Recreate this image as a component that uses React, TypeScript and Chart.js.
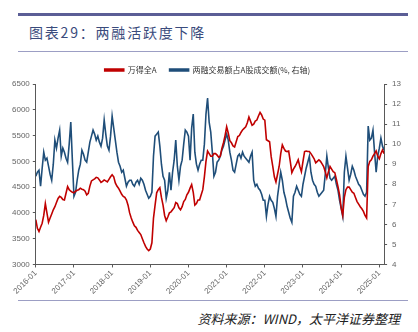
import React, { useEffect, useRef } from "react";
import { Chart, registerables } from "chart.js";

Chart.register(...registerables);

const yearLabels = ["2016-01","2017-01","2018-01","2019-01","2020-01","2021-01","2022-01","2023-01","2024-01","2025-01"];

// 万得全A, half-monthly
const windAllA = [
  3870,3700,3640,3720,3800,3950,4180,4000,3820,3900,3980,4060,4120,4200,4280,4320,4300,4260,4250,4380,4510,4450,4420,4400,
  4390,4420,4440,4450,4480,4460,4450,4420,4350,4380,4520,4620,4640,4660,4690,4680,4640,4590,4610,4640,4620,4600,4650,4700,
  4740,4700,4580,4520,4480,4420,4360,4320,4300,4250,4150,4000,3900,3820,3750,3720,3660,3620,3580,3500,3420,3350,3300,3270,
  3300,3420,3900,4150,4390,4450,4490,4300,4150,3950,3850,3920,4000,4020,4060,4100,4200,4180,4100,4060,4120,4220,4260,4350,
  4400,4480,4550,4400,4150,4180,4250,4250,4350,4450,4700,5000,5200,5150,5100,5100,5150,5150,5120,5080,5100,5250,5360,5500,
  5670,5550,5400,5360,5300,5280,5380,5480,5500,5560,5610,5640,5670,5750,5860,5780,5700,5720,5780,5800,5880,5950,5900,5820,
  5800,5420,5400,5380,5090,4900,4700,4600,4750,4900,5150,5320,5250,5200,5190,5200,5000,4780,4850,4900,4960,5030,4900,4800,
  5000,5190,5200,5190,5190,5150,5100,5050,4970,5000,5030,5000,4950,4900,4800,4680,4800,4900,4850,4800,4780,4650,4510,4350,
  4100,3950,4300,4450,4500,4500,4450,4400,4380,4300,4220,4170,4120,4080,4030,3950,3900,4900,5000,5030,5100,5150,5200,5100,
  5050,5150,5220,5150
];

// 两融交易额占A股成交额 (%), half-monthly
const marginShare = [
  8.4,8.6,8.7,7.9,8.8,9.6,9.2,9.3,8.9,8.5,8.2,9.0,10.2,9.8,10.3,10.7,9.4,9.8,9.6,9.3,9.1,10.0,11.1,9.2,
  7.4,7.6,8.2,8.7,9.0,9.7,9.5,9.2,9.1,9.6,10.1,10.4,10.7,10.5,10.2,10.4,10.1,9.9,10.3,11.2,10.5,9.9,9.7,10.4,
  11.4,10.8,10.2,9.6,9.1,8.9,8.6,8.7,8.3,7.9,8.1,8.2,8.2,8.0,7.9,8.1,8.2,8.0,8.3,8.2,8.0,7.7,7.5,7.3,
  7.4,7.6,9.4,10.4,10.5,10.6,9.9,9.0,8.4,8.2,7.3,7.7,8.6,7.7,8.6,9.2,10.2,8.9,8.2,8.9,9.2,10.0,10.7,10.6,
  10.4,9.2,10.8,11.5,9.6,9.0,8.7,9.0,9.2,9.2,10.0,11.5,12.3,11.1,10.6,9.6,8.4,8.6,9.1,9.2,9.4,9.7,9.9,10.2,
  10.5,10.2,9.6,9.2,8.7,8.6,9.0,9.4,9.5,9.3,9.6,9.4,9.3,9.2,9.1,9.4,9.6,8.2,7.9,8.0,7.8,7.7,7.5,7.2,
  7.2,6.4,7.0,7.4,7.2,7.1,6.8,6.4,7.4,8.0,8.6,8.2,7.6,7.3,6.9,6.6,6.3,6.1,7.4,7.6,7.9,7.7,7.5,7.4,
  8.0,8.4,8.8,9.1,9.4,8.6,8.2,8.0,7.9,7.6,7.4,7.5,7.6,7.7,8.5,9.4,8.8,8.3,8.2,8.3,8.4,8.0,7.7,7.2,
  6.8,6.4,8.6,9.4,8.8,8.2,8.5,8.9,8.7,8.4,8.2,8.0,7.9,7.7,7.5,7.4,7.6,10.9,10.2,10.3,10.7,9.6,8.6,9.4,
  9.8,10.3,9.9,9.7
];

const seriesNames = ["万得全A", "两融交易额占A股成交额(%, 右轴)"];
const stepsPerYear = 24;

export default function App() {
  const ref = useRef<HTMLCanvasElement>(null);
  useEffect(() => {
    if (!ref.current) return;
    const axisColor = "#595959";
    const tickFont = { family: "'Liberation Sans', Arial, sans-serif", size: 8 };
    const chart = new Chart(ref.current, {
      type: "line",
      data: {
        datasets: [
          {
            label: seriesNames[0],
            data: windAllA.map((v, i) => ({ x: i, y: v })),
            borderColor: "#C00000",
            backgroundColor: "#C00000",
            borderWidth: 1.6,
            pointRadius: 0,
            yAxisID: "y",
            tension: 0,
          },
          {
            label: seriesNames[1],
            data: marginShare.map((v, i) => ({ x: i, y: v })),
            borderColor: "#1F4E79",
            backgroundColor: "#1F4E79",
            borderWidth: 1.6,
            pointRadius: 0,
            yAxisID: "y1",
            tension: 0,
          },
        ],
      },
      options: {
        animation: false,
        responsive: false,
        maintainAspectRatio: false,
        layout: { padding: { left: 9, right: 12, top: 0, bottom: 0 } },
        plugins: {
          legend: {
            display: true,
            position: "top",
            labels: {
              boxWidth: 19,
              boxHeight: 2,
              padding: 13,
              color: "#333",
              font: { family: "'Noto Sans CJK SC', sans-serif", size: 8 },
            },
          },
          tooltip: { enabled: false },
        },
        scales: {
          x: {
            type: "linear",
            min: 0,
            max: windAllA.length - 1,
            afterBuildTicks: (axis: any) => {
              axis.ticks = yearLabels.map((_, k) => ({ value: k * stepsPerYear }));
            },
            ticks: {
              autoSkip: false,
              minRotation: 45,
              maxRotation: 45,
              color: "#666",
              font: tickFont,
              padding: 1,
              callback: (v: any) => yearLabels[Math.round(Number(v) / stepsPerYear)] ?? "",
            },
            grid: { drawOnChartArea: false, drawTicks: true, tickLength: 3, color: axisColor },
            border: { display: true, color: axisColor, width: 1 },
          },
          y: {
            position: "left",
            min: 3000,
            max: 6500,
            ticks: { stepSize: 500, color: "#666", font: tickFont, padding: 3, callback: (v: any) => String(v) },
            grid: { drawOnChartArea: false, drawTicks: true, tickLength: 3, color: axisColor },
            border: { display: true, color: axisColor, width: 1 },
          },
          y1: {
            position: "right",
            min: 4,
            max: 13,
            ticks: { stepSize: 1, color: "#666", font: tickFont, padding: 5, callback: (v: any) => String(v) },
            grid: { drawOnChartArea: false, drawTicks: true, tickLength: 3, color: axisColor },
            border: { display: true, color: axisColor, width: 1 },
          },
        },
      },
    });
    return () => chart.destroy();
  }, []);

  return (
    <div style={{ position: "absolute", left: 0, top: 0, width: 418, height: 332, background: "#fff", overflow: "hidden" }}>
      <div style={{ position: "absolute", left: 18, top: 13, width: 390, height: 3, background: "#5B5E96" }} />
      <div
        style={{
          position: "absolute",
          left: 29,
          top: 22,
          fontFamily: "'Noto Sans CJK SC', sans-serif",
          fontSize: 14,
          letterSpacing: 1.8,
          color: "#3A4B7C",
          lineHeight: "20px",
          whiteSpace: "nowrap",
        }}
      >
        图表29：两融活跃度下降
      </div>
      <div style={{ position: "absolute", left: 18, top: 51, width: 390, height: 1, background: "#9C9EC4" }} />
      <canvas ref={ref} width={418} height={244} style={{ position: "absolute", left: 0, top: 53, width: 418, height: 244 }} />
      <div style={{ position: "absolute", left: 18, top: 300, width: 390, height: 1, background: "#9C9EC4" }} />
      <div
        style={{
          position: "absolute",
          right: 18,
          top: 310,
          fontFamily: "'Noto Sans CJK SC', sans-serif",
          fontSize: 13,
          fontStyle: "italic",
          color: "#222",
          lineHeight: "18px",
          whiteSpace: "nowrap",
        }}
      >
        资料来源：WIND，太平洋证券整理
      </div>
    </div>
  );
}
